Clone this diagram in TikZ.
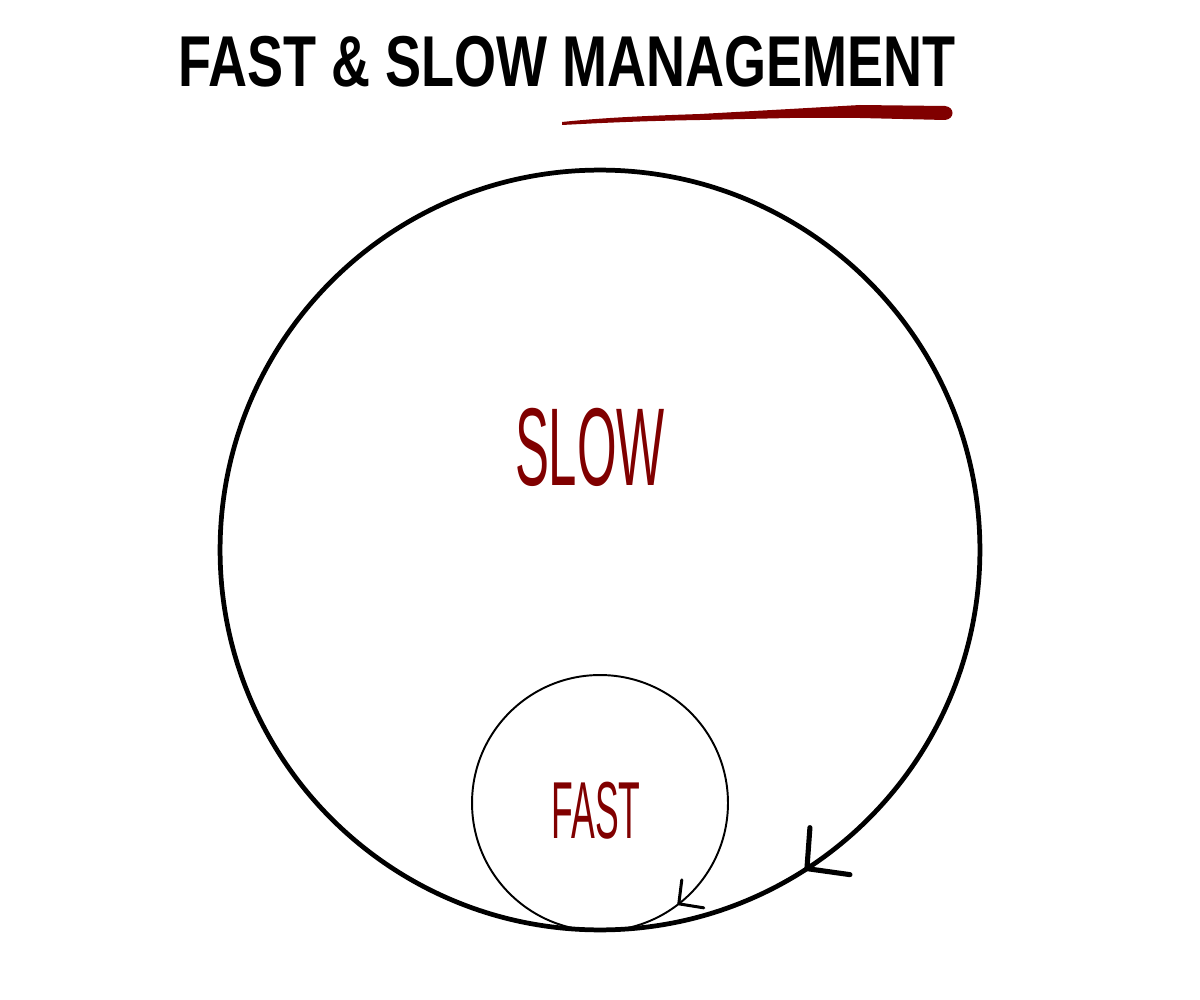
\documentclass[tikz,border=0pt]{standalone}
\usepackage{fontspec}
\usepackage{graphicx}
\usepackage{xcolor}
\usetikzlibrary{calc,positioning}
\newfontfamily\handfont{Liberation Sans}
\definecolor{inkred}{RGB}{128,0,0}

\tikzset{
  ring/.style={circle, draw, inner sep=0pt, outer sep=0pt},
  tag/.style={text=inkred, inner sep=0pt, anchor=base},
  tick/.style={line cap=round, line join=round, line width=#1},
}

\begin{document}
\begin{tikzpicture}[x=0.02cm, y=-0.02cm]
    \useasboundingbox (0,0) rectangle (1200,1000);

    \node[anchor=base, inner sep=0pt] (title) at (567,87)
      {\handfont\bfseries\fontsize{41}{41}\selectfont\scalebox{0.75}[1]{FAST \& SLOW MANAGEMENT}};
    \fill[inkred] (562,122) .. controls (600,118) and (640,116) .. (700,114)
      -- (790,109) -- (860,105) -- (945,106)
      .. controls (955,107) and (955,119) .. (945,120)
      -- (860,118) -- (790,118) -- (700,120)
      .. controls (640,121) and (600,123) .. (562,125) -- cycle;

    \node[ring, line width=2.7pt, minimum size=15.2cm] (slowring) at (600,550) {};
    \node[ring, line width=1.1pt, minimum size=5.12cm] (fastring) at (600,803) {};

    \node[tag] (slow) at (590,485)
      {\handfont\fontsize{63}{63}\selectfont\scalebox{0.46}[1]{SLOW}};
    \node[tag] (fast) at (596,838)
      {\handfont\fontsize{46}{46}\selectfont\scalebox{0.44}[1]{FAST}};

    \coordinate (slowtip) at (slowring.-57);
    \coordinate (fasttip) at (fastring.-52);
    \draw[tick=2.9pt] ($(slowtip)+(3,-41)$) -- (slowtip) -- ++(43,6);
    \draw[tick=1.7pt] ($(fasttip)+(3,-24)$) -- (fasttip) -- ++(25,4);
\end{tikzpicture}
\end{document}
